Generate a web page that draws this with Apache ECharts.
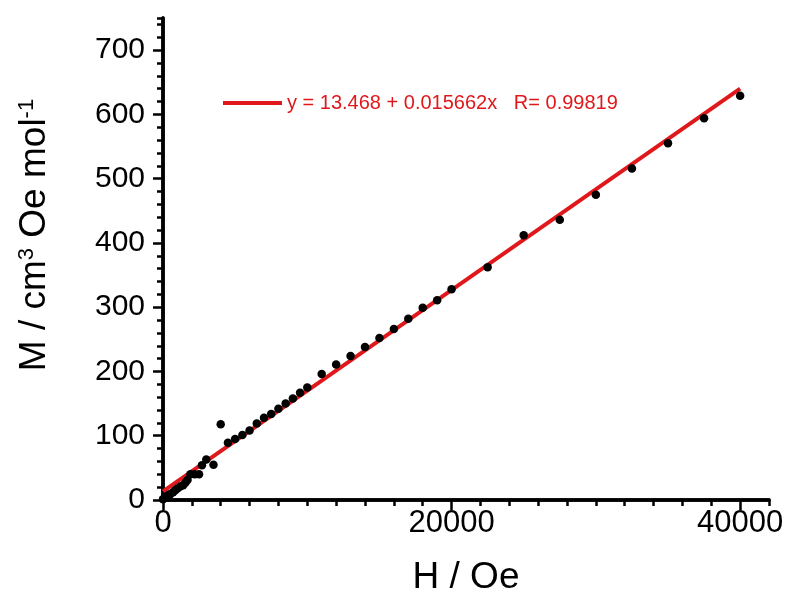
<!DOCTYPE html>
<html>
<head>
<meta charset="utf-8">
<script src="https://cdn.jsdelivr.net/npm/echarts@6/dist/echarts.min.js"></script>
<style>
    html, body { margin: 0; padding: 0; background: #fff; }
    #chart { width: 791px; height: 597px; }
</style>
</head>
<body>
<div id="chart"></div>
<script>
// measured points, H / Oe
const hData = [0, 100, 200, 300, 400, 500, 700, 850, 1000, 1200, 1400, 1550, 1700, 1900, 2200, 2500, 2700, 3000, 3500,
    4000, 4500, 5000, 5500, 6000, 6500, 7000, 7500, 8000, 8500, 9000, 9500, 10000,
    11000, 12000, 13000, 14000, 15000, 16000, 17000, 18000, 19000, 20000,
    22500, 25000, 27500, 30000, 32500, 35000, 37500, 40000];
// M / cm3 Oe mol-1
const mData = [1, 3, 5, 6, 8, 9, 12, 15, 18, 21, 23, 27, 31, 40, 40, 40, 54, 63, 55,
    118, 89, 95, 101, 108, 119, 128, 134, 142, 150, 158, 167, 175,
    196, 211, 224, 238, 252, 266, 282, 299, 311, 328,
    362, 412, 436, 475, 516, 555, 594, 629];
// fitted line end points
const fitX = [0, 40000];
const fitY = [13.468, 639.95];
const fitLabel = "y = 13.468 + 0.015662x   R= 0.99819";

const font = "'Liberation Sans', Arial, sans-serif";
const red = "#e0181c";

const chart = echarts.init(document.getElementById("chart"));

// fresh object each time, echarts merges into them
function axisLine() {
    return { show: true, onZero: false, lineStyle: { color: "#000", width: 3.5 } };
}
function ticks(len) {
    return { show: true, inside: false, length: len, lineStyle: { color: "#000", width: 2.5 } };
}

chart.setOption({
    animation: false,
    legend: {
        data: [fitLabel],
        left: 218,
        top: 88,
        icon: "rect",
        itemWidth: 59,
        itemHeight: 4,
        itemGap: 8,
        textStyle: { color: red, fontSize: 20, fontFamily: font }
    },
    grid: { left: 163, right: 22, top: 18, bottom: 97, containLabel: false, outerBoundsMode: "none" },
    xAxis: [
        {
            type: "value",
            position: "bottom",
            min: 0,
            max: 42000,
            interval: 20000,
            name: "H / Oe",
            nameLocation: "middle",
            nameGap: 59,
            nameTextStyle: { fontSize: 37, color: "#000", fontFamily: font },
            axisLine: axisLine(),
            axisTick: ticks(10),
            axisLabel: {
                show: true, showMaxLabel: false, fontSize: 31, color: "#000", fontFamily: font, margin: 8,
                formatter: (v) => String(v)
            },
            splitLine: { show: false }
        },
        {
            type: "value",
            position: "bottom",
            min: 0,
            max: 42000,
            interval: 2000,
            axisLine: axisLine(),
            axisTick: ticks(6),
            axisLabel: { show: false },
            splitLine: { show: false }
        }
    ],
    yAxis: [
        {
            type: "value",
            position: "left",
            min: 0,
            max: 750,
            interval: 100,
            name: "M / cm{sup|3} Oe mol{sup|-1}",
            nameLocation: "middle",
            nameGap: 110,
            nameRotate: 90,
            nameTextStyle: {
                fontSize: 37,
                color: "#000",
                fontFamily: font,
                padding: [0, 0, 0, 48],
                rich: {
                    sup: { fontSize: 22, color: "#000", fontFamily: font, verticalAlign: "top", padding: [0, 0, 14, 0] }
                }
            },
            axisLine: axisLine(),
            axisTick: ticks(10),
            axisLabel: {
                show: true, showMaxLabel: false, fontSize: 30, color: "#000", fontFamily: font, margin: 18,
                formatter: (v) => String(v)
            },
            splitLine: { show: false }
        },
        {
            type: "value",
            position: "left",
            min: 0,
            max: 750,
            interval: 20,
            axisLine: axisLine(),
            axisTick: ticks(6),
            axisLabel: { show: false },
            splitLine: { show: false }
        }
    ],
    series: [
        {
            name: fitLabel,
            type: "line",
            xAxisIndex: 0,
            yAxisIndex: 0,
            data: fitX.map((x, i) => [x, fitY[i]]),
            showSymbol: false,
            lineStyle: { color: red, width: 4 },
            itemStyle: { color: red },
            z: 2
        },
        {
            name: "data",
            type: "scatter",
            xAxisIndex: 0,
            yAxisIndex: 0,
            data: hData.map((h, i) => [h, mData[i]]),
            symbol: "circle",
            symbolSize: 8.5,
            itemStyle: { color: "#000", opacity: 1 },
            z: 3
        }
    ]
});
</script>
</body>
</html>
